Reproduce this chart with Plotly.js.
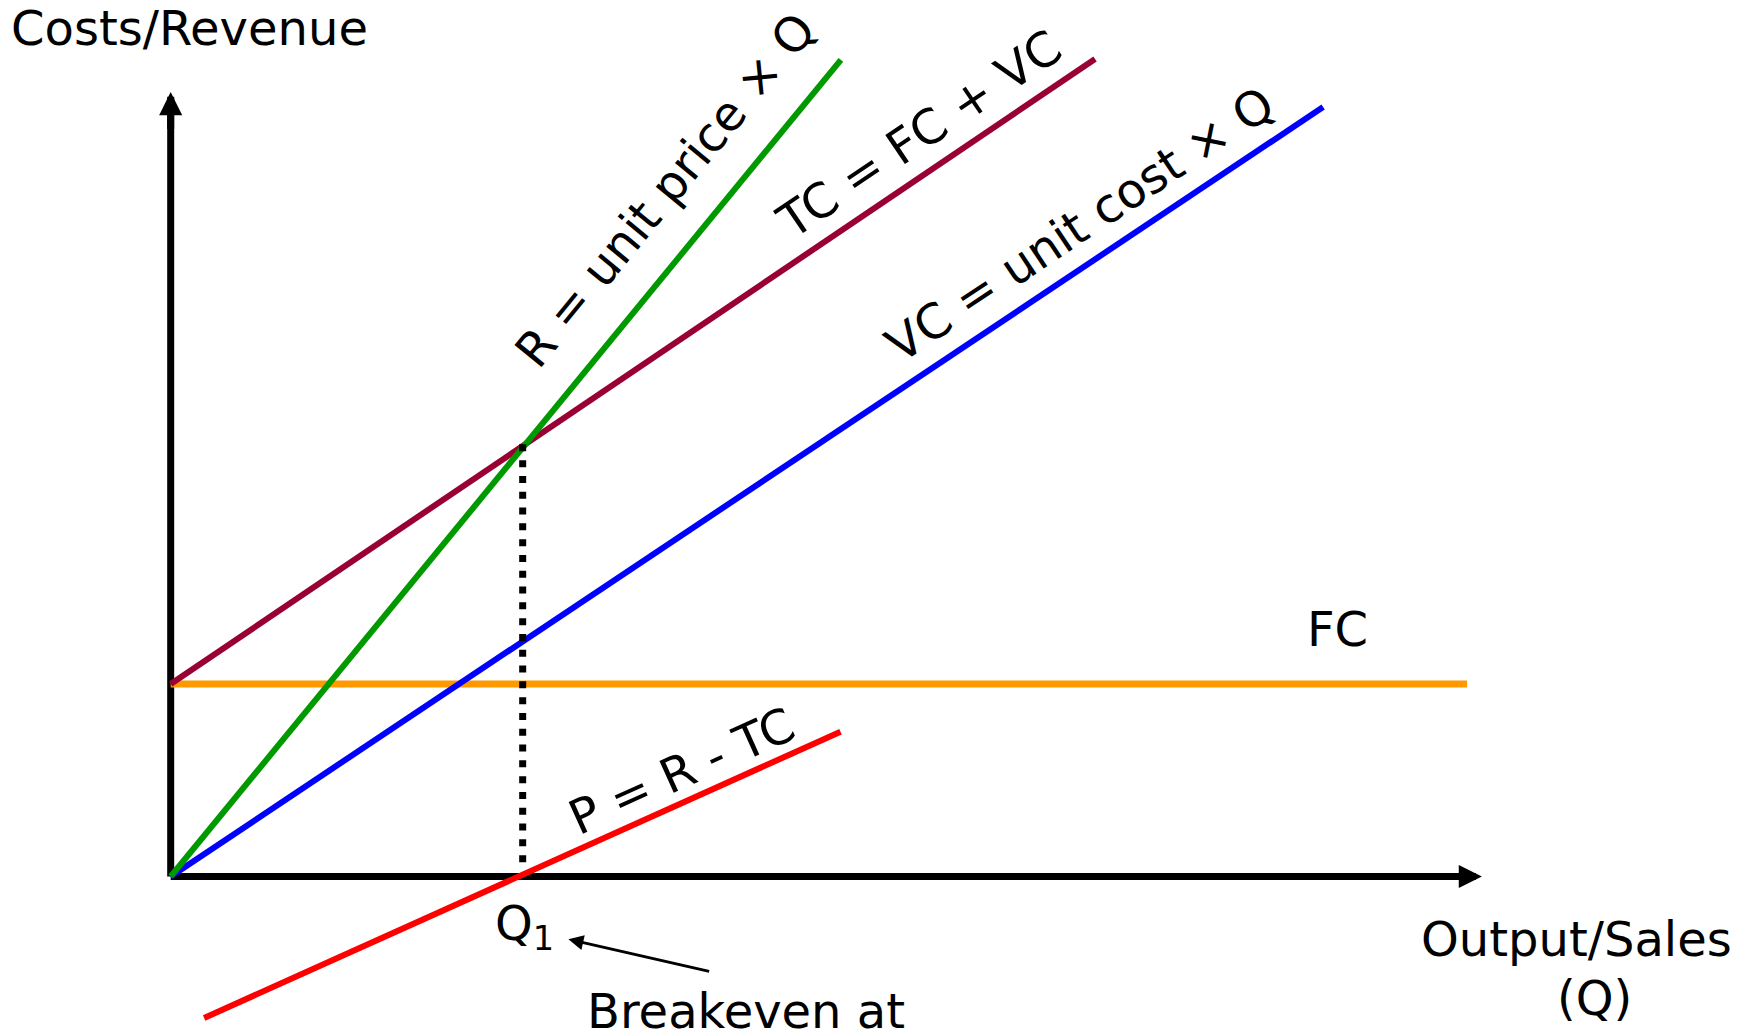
<!DOCTYPE html>
<html>
<head>
<meta charset="utf-8">
<script src="https://cdn.plot.ly/plotly-3.0.1.min.js"></script>
<style>
  html, body { margin: 0; padding: 0; background: #ffffff; }
  #chart { width: 1755px; height: 1035px; }
</style>
</head>
<body>
<div id="chart"></div>
<script>
// ---- Data (quantity Q on x, money on y; breakeven Q1 = 10, FC = 10) ----
const revenueQ   = [0, 19.04];
const revenueV   = [0, 42.42];
const totalCostQ = [0, 26.26];
const totalCostV = [10, 42.47];
const varCostQ   = [0, 32.74];
const varCostV   = [0, 39.97];
const fixedCostQ = [0, 36.83];
const fixedCostV = [10, 10];
const profitQ    = [0.95, 19.03];
const profitV    = [-7.35, 7.52];
const breakevenQ = [10, 10];
const breakevenV = [22.45, 0.51];
const xAxisQ = [0, 37.0];
const xAxisV = [0, 0];
const yAxisQ = [0, 0];
const yAxisV = [0, 40.5];
const xAxisTip = 37.25;
const yAxisTip = 40.75;

const labels = {
  yTitle: 'Costs/Revenue',
  xTitle1: 'Output/Sales',
  xTitle2: '(Q)',
  revenue: 'R = unit price × Q',
  totalCost: 'TC = FC + VC',
  varCost: 'VC = unit cost × Q',
  fixedCost: 'FC',
  profit: 'P = R - TC',
  q1: 'Q<sub>1</sub>',
  breakeven: 'Breakeven at'
};

const FONT = 'DejaVu Sans, Verdana, sans-serif';
const FS = 48;

function line(x, y, color, width, dash) {
  return {
    type: 'scatter', mode: 'lines', x: x, y: y, hoverinfo: 'skip',
    line: { color: color, width: width, dash: dash || 'solid' },
    cliponaxis: false, showlegend: false
  };
}

const traces = [
  line(xAxisQ, xAxisV, '#000000', 7),
  line(yAxisQ, yAxisV, '#000000', 7),
  line(fixedCostQ, fixedCostV, '#FF9900', 7),
  line(totalCostQ, totalCostV, '#990033', 6),
  line(varCostQ, varCostV, '#0000FF', 6),
  line(revenueQ, revenueV, '#009900', 6),
  line(profitQ, profitV, '#FF0000', 6),
  line(breakevenQ, breakevenV, '#000000', 7, '7px,8.8px')
];

function txt(text, x, y, angle, xanchor, yanchor) {
  return {
    text: text, x: x, y: y, xref: 'x', yref: 'y', showarrow: false,
    textangle: angle || 0, xanchor: xanchor || 'center', yanchor: yanchor || 'middle',
    font: { family: FONT, size: FS, color: '#000000' }
  };
}

function arrow(x, y, ax, ay, width, size) {
  return {
    text: '', x: x, y: y, ax: ax, ay: ay, xref: 'x', yref: 'y', axref: 'x', ayref: 'y',
    showarrow: true, arrowhead: 2, arrowwidth: width, arrowsize: size,
    arrowcolor: '#000000', standoff: 0, startstandoff: 0
  };
}

const annotations = [
  txt(labels.yTitle, -4.6, 44.08, 0, 'left'),
  txt(labels.xTitle1, 39.95, -3.25),
  txt(labels.xTitle2, 40.46, -6.31),
  txt(labels.fixedCost, 33.16, 12.88),
  txt(labels.revenue, 14.04, 35.66, -50.6),
  txt(labels.totalCost, 21.26, 38.57, -34.1),
  txt(labels.varCost, 25.83, 33.9, -33.7),
  txt(labels.profit, 14.5, 5.5, -24.2),
  txt(labels.q1, 9.15, -2.62, 0, 'left'),
  txt(labels.breakeven, 16.35, -7.0),
  arrow(xAxisTip, 0, xAxisTip - 1.2, 0, 7, 0.66),
  arrow(0, yAxisTip, 0, yAxisTip - 2.0, 7, 0.66),
  arrow(11.30, -3.262, 15.34, -4.945, 3, 1.0)
];

const layout = {
  width: 1755, height: 1035, autosize: false,
  margin: { l: 0, r: 0, t: 0, b: 0, pad: 0 },
  paper_bgcolor: '#ffffff', plot_bgcolor: '#ffffff',
  showlegend: false,
  xaxis: { range: [-4.849, 45.009], visible: false, fixedrange: true },
  yaxis: { range: [-8.234, 45.532], visible: false, fixedrange: true },
  annotations: annotations
};

Plotly.newPlot('chart', traces, layout, { displayModeBar: false, staticPlot: true });
</script>
</body>
</html>
